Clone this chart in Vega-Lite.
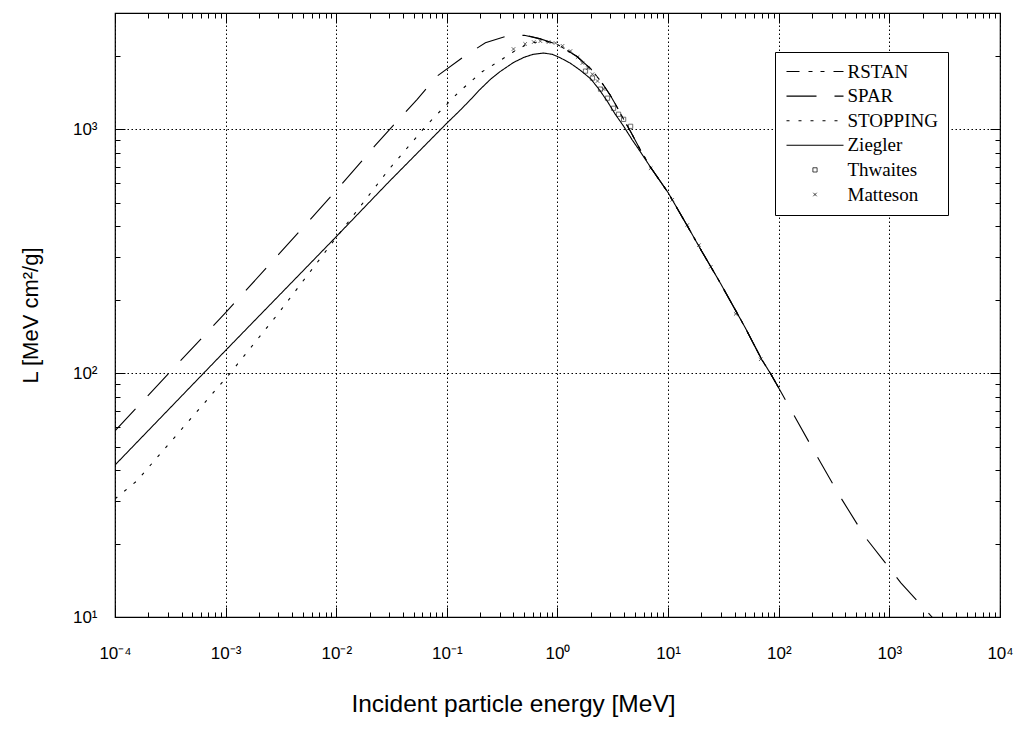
{
  "$schema": "https://vega.github.io/schema/vega-lite/v6.json",
  "autosize": "none",
  "width": 885,
  "height": 604,
  "padding": {"left": 115, "top": 13, "right": 23, "bottom": 123},
  "background": "white",
  "config": {
    "view": {"stroke": "black", "strokeWidth": 1.2},
    "font": "Liberation Sans"
  },
  "datasets": {
    "curves": [
      {"s": "RSTAN", "E": 0.55, "L": 2415}, {"s": "RSTAN", "E": 0.7, "L": 2350}, {"s": "RSTAN", "E": 1, "L": 2230},
      {"s": "RSTAN", "E": 1.5, "L": 1990}, {"s": "RSTAN", "E": 2, "L": 1770}, {"s": "RSTAN", "E": 2.5, "L": 1560},
      {"s": "RSTAN", "E": 3, "L": 1380}, {"s": "RSTAN", "E": 3.5, "L": 1220}, {"s": "RSTAN", "E": 4, "L": 1090},
      {"s": "RSTAN", "E": 4.6, "L": 975}, {"s": "RSTAN", "E": 5.6, "L": 825}, {"s": "RSTAN", "E": 7, "L": 695},
      {"s": "RSTAN", "E": 10, "L": 550}, {"s": "RSTAN", "E": 15, "L": 400}, {"s": "RSTAN", "E": 20, "L": 318},
      {"s": "RSTAN", "E": 30, "L": 232}, {"s": "RSTAN", "E": 50, "L": 153}, {"s": "RSTAN", "E": 70, "L": 114},
      {"s": "RSTAN", "E": 85, "L": 99}, {"s": "RSTAN", "E": 100, "L": 87},

      {"s": "SPAR", "E": 0.0001, "L": 58}, {"s": "SPAR", "E": 0.000307, "L": 100}, {"s": "SPAR", "E": 0.001, "L": 177},
      {"s": "SPAR", "E": 0.003, "L": 306}, {"s": "SPAR", "E": 0.01, "L": 561}, {"s": "SPAR", "E": 0.0225, "L": 859},
      {"s": "SPAR", "E": 0.0354, "L": 1079}, {"s": "SPAR", "E": 0.0537, "L": 1325}, {"s": "SPAR", "E": 0.0815, "L": 1652},
      {"s": "SPAR", "E": 0.137, "L": 1963}, {"s": "SPAR", "E": 0.223, "L": 2265}, {"s": "SPAR", "E": 0.351, "L": 2415},
      {"s": "SPAR", "E": 0.5, "L": 2430}, {"s": "SPAR", "E": 0.7, "L": 2350}, {"s": "SPAR", "E": 1, "L": 2230},
      {"s": "SPAR", "E": 1.5, "L": 1990}, {"s": "SPAR", "E": 2, "L": 1770}, {"s": "SPAR", "E": 2.5, "L": 1560},
      {"s": "SPAR", "E": 3, "L": 1380}, {"s": "SPAR", "E": 3.5, "L": 1220}, {"s": "SPAR", "E": 4, "L": 1090},
      {"s": "SPAR", "E": 4.6, "L": 975}, {"s": "SPAR", "E": 5.6, "L": 825}, {"s": "SPAR", "E": 7, "L": 695},
      {"s": "SPAR", "E": 10, "L": 550}, {"s": "SPAR", "E": 15, "L": 400}, {"s": "SPAR", "E": 20, "L": 318},
      {"s": "SPAR", "E": 30, "L": 232}, {"s": "SPAR", "E": 50, "L": 153}, {"s": "SPAR", "E": 70, "L": 114},
      {"s": "SPAR", "E": 85, "L": 99}, {"s": "SPAR", "E": 100, "L": 87}, {"s": "SPAR", "E": 120, "L": 75},
      {"s": "SPAR", "E": 207, "L": 48.2}, {"s": "SPAR", "E": 349, "L": 31.8}, {"s": "SPAR", "E": 612, "L": 21.1},
      {"s": "SPAR", "E": 1032, "L": 15.6}, {"s": "SPAR", "E": 1270, "L": 13.8}, {"s": "SPAR", "E": 2500, "L": 9.85},

      {"s": "STOPPING", "E": 0.0001, "L": 30.5}, {"s": "STOPPING", "E": 0.000157, "L": 36.1}, {"s": "STOPPING", "E": 0.0011, "L": 100},
      {"s": "STOPPING", "E": 0.003, "L": 176}, {"s": "STOPPING", "E": 0.01, "L": 360}, {"s": "STOPPING", "E": 0.0297, "L": 682},
      {"s": "STOPPING", "E": 0.0662, "L": 1045}, {"s": "STOPPING", "E": 0.128, "L": 1422}, {"s": "STOPPING", "E": 0.208, "L": 1722},
      {"s": "STOPPING", "E": 0.305, "L": 1919}, {"s": "STOPPING", "E": 0.4, "L": 2080}, {"s": "STOPPING", "E": 0.5, "L": 2200},
      {"s": "STOPPING", "E": 0.6, "L": 2270}, {"s": "STOPPING", "E": 0.8, "L": 2290}, {"s": "STOPPING", "E": 1, "L": 2230},
      {"s": "STOPPING", "E": 1.5, "L": 1990}, {"s": "STOPPING", "E": 2, "L": 1770}, {"s": "STOPPING", "E": 2.5, "L": 1560},
      {"s": "STOPPING", "E": 3, "L": 1380}, {"s": "STOPPING", "E": 3.5, "L": 1220}, {"s": "STOPPING", "E": 4, "L": 1090},
      {"s": "STOPPING", "E": 4.6, "L": 975}, {"s": "STOPPING", "E": 5.6, "L": 825}, {"s": "STOPPING", "E": 7, "L": 695},
      {"s": "STOPPING", "E": 10, "L": 550}, {"s": "STOPPING", "E": 15, "L": 400}, {"s": "STOPPING", "E": 20, "L": 318},
      {"s": "STOPPING", "E": 30, "L": 232}, {"s": "STOPPING", "E": 50, "L": 153}, {"s": "STOPPING", "E": 70, "L": 114},
      {"s": "STOPPING", "E": 85, "L": 99}, {"s": "STOPPING", "E": 100, "L": 87},

      {"s": "Ziegler", "E": 0.0001, "L": 42}, {"s": "Ziegler", "E": 0.001, "L": 124}, {"s": "Ziegler", "E": 0.01, "L": 363},
      {"s": "Ziegler", "E": 0.03, "L": 610}, {"s": "Ziegler", "E": 0.1, "L": 1060}, {"s": "Ziegler", "E": 0.13, "L": 1190},
      {"s": "Ziegler", "E": 0.16, "L": 1310}, {"s": "Ziegler", "E": 0.2, "L": 1460}, {"s": "Ziegler", "E": 0.25, "L": 1610},
      {"s": "Ziegler", "E": 0.3, "L": 1720}, {"s": "Ziegler", "E": 0.4, "L": 1880}, {"s": "Ziegler", "E": 0.5, "L": 1975},
      {"s": "Ziegler", "E": 0.6, "L": 2030}, {"s": "Ziegler", "E": 0.75, "L": 2055}, {"s": "Ziegler", "E": 0.9, "L": 2030},
      {"s": "Ziegler", "E": 1.06, "L": 1965}, {"s": "Ziegler", "E": 1.3, "L": 1870}, {"s": "Ziegler", "E": 1.6, "L": 1750},
      {"s": "Ziegler", "E": 2, "L": 1610}, {"s": "Ziegler", "E": 2.4, "L": 1450}, {"s": "Ziegler", "E": 2.83, "L": 1300},
      {"s": "Ziegler", "E": 3.3, "L": 1160}, {"s": "Ziegler", "E": 3.96, "L": 1030}, {"s": "Ziegler", "E": 4.7, "L": 910},
      {"s": "Ziegler", "E": 5.6, "L": 810}, {"s": "Ziegler", "E": 7, "L": 695}, {"s": "Ziegler", "E": 10, "L": 550},
      {"s": "Ziegler", "E": 15, "L": 400}, {"s": "Ziegler", "E": 20, "L": 318}, {"s": "Ziegler", "E": 30, "L": 232},
      {"s": "Ziegler", "E": 50, "L": 153}, {"s": "Ziegler", "E": 70, "L": 114}, {"s": "Ziegler", "E": 85, "L": 99},
      {"s": "Ziegler", "E": 100, "L": 87}
    ],
    "thwaites": [
      {"E": 1.79, "L": 1733}, {"E": 2.07, "L": 1622}, {"E": 2.45, "L": 1462}, {"E": 2.83, "L": 1342},
      {"E": 3.21, "L": 1220}, {"E": 3.56, "L": 1153}, {"E": 3.96, "L": 1099}, {"E": 4.58, "L": 1029}
    ],
    "matteson": [
      {"E": 0.4, "L": 2135}, {"E": 0.51, "L": 2240}, {"E": 0.61, "L": 2280}, {"E": 0.7, "L": 2300},
      {"E": 0.83, "L": 2280}, {"E": 0.96, "L": 2260}, {"E": 1.11, "L": 2200}, {"E": 1.31, "L": 2095},
      {"E": 1.52, "L": 1978}, {"E": 1.68, "L": 1870}, {"E": 1.88, "L": 1783}, {"E": 2.07, "L": 1683},
      {"E": 2.3, "L": 1578}, {"E": 2.61, "L": 1462}, {"E": 6.95, "L": 693}, {"E": 10.9, "L": 514},
      {"E": 14.9, "L": 405}, {"E": 19, "L": 335}, {"E": 24.3, "L": 273}, {"E": 40.8, "L": 175},
      {"E": 68.7, "L": 114}
    ]
  },
  "resolve": {"axis": {"x": "independent", "y": "independent"}},
  "layer": [
    {
      "data": {"name": "curves"},
      "mark": {"type": "line", "color": "black", "strokeWidth": 1.1, "clip": true},
      "encoding": {
        "x": {
          "field": "E", "type": "quantitative",
          "scale": {"type": "log", "domain": [0.0001, 10000], "nice": false},
          "axis": {
            "orient": "bottom",
            "values": [0.0001,0.0002,0.0003,0.0004,0.0005,0.0006,0.0007,0.0008,0.0009,0.001,0.002,0.003,0.004,0.005,0.006,0.007,0.008,0.009,0.01,0.02,0.03,0.04,0.05,0.06,0.07,0.08,0.09,0.1,0.2,0.3,0.4,0.5,0.6,0.7,0.8,0.9,1,2,3,4,5,6,7,8,9,10,20,30,40,50,60,70,80,90,100,200,300,400,500,600,700,800,900,1000,2000,3000,4000,5000,6000,7000,8000,9000,10000],
            "labelExpr": "abs(log(datum.value)/LN10 - round(log(datum.value)/LN10)) < 0.01 ? ['10⁻⁴','10⁻³','10⁻²','10⁻¹','10⁰','10¹','10²','10³','10⁴'][round(log(datum.value)/LN10)+4] : ''",
            "labelOverlap": false,
            "labelBound": false,
            "labelFlush": false,
            "labelFontSize": 17,
            "labelColor": "black",
            "labelPadding": 38,
            "domain": false,
            "tickColor": "black",
            "tickWidth": 1,
            "tickSize": {"condition": {"test": "abs(log(datum.value)/LN10 - round(log(datum.value)/LN10)) < 0.01", "value": -10}, "value": -5},
            "grid": true,
            "gridColor": "black",
            "gridWidth": 1,
            "gridDash": [1.5, 2.5],
            "gridOpacity": {"condition": {"test": "abs(log(datum.value)/LN10 - round(log(datum.value)/LN10)) < 0.01", "value": 1}, "value": 0},
            "title": "Incident particle energy [MeV]",
            "titleFontSize": 24.5,
            "titleFontWeight": "normal",
            "titleColor": "black",
            "titleX": 398,
            "titleY": 94,
            "titleBaseline": "alphabetic"
          }
        },
        "y": {
          "field": "L", "type": "quantitative",
          "scale": {"type": "log", "domain": [10, 3000], "nice": false},
          "axis": {
            "orient": "left",
            "values": [10,20,30,40,50,60,70,80,90,100,200,300,400,500,600,700,800,900,1000,2000],
            "labelExpr": "abs(log(datum.value)/LN10 - round(log(datum.value)/LN10)) < 0.01 ? ['10¹','10²','10³'][round(log(datum.value)/LN10)-1] : ''",
            "labelOverlap": false,
            "labelBound": false,
            "labelFlush": false,
            "labelFontSize": 17,
            "labelColor": "black",
            "labelPadding": 28,
            "domain": false,
            "tickColor": "black",
            "tickSize": {"condition": {"test": "abs(log(datum.value)/LN10 - round(log(datum.value)/LN10)) < 0.01", "value": -10}, "value": -5},
            "grid": true,
            "gridColor": "black",
            "gridWidth": 1,
            "gridDash": [1.5, 2.5],
            "gridOpacity": {"condition": {"test": "abs(log(datum.value)/LN10 - round(log(datum.value)/LN10)) < 0.01", "value": 1}, "value": 0},
            "title": "L [MeV cm²/g]",
            "titleFontSize": 22,
            "titleFontWeight": "normal",
            "titleColor": "black",
            "titlePadding": 30
          }
        },
        "strokeDash": {
          "field": "s", "type": "nominal",
          "scale": {
            "domain": ["RSTAN", "SPAR", "STOPPING", "Ziegler", "Thwaites", "Matteson"],
            "range": [[13, 9, 4, 8, 4, 9], [30, 18], [3, 9], [1, 0], [1, 0], [1, 0]]
          },
          "legend": {
            "title": null,
            "orient": "none",
            "legendX": 660,
            "legendY": 39,
            "padding": 10,
            "strokeColor": "black",
            "fillColor": "white",
            "symbolType": "stroke",
            "symbolSize": 3249,
            "symbolOffset": 20.5,
            "symbolStrokeWidth": 1.1,
            "symbolStrokeColor": "black",
            "labelFont": "Liberation Serif",
            "labelFontSize": 19,
            "labelColor": "black",
            "labelOffset": 23,
            "rowPadding": 4.6,
            "encode": {
              "symbols": {
                "update": {
                  "shape": {"signal": "datum.value == 'Thwaites' ? 'square' : datum.value == 'Matteson' ? 'M-1,-1L1,1M1,-1L-1,1' : 'stroke'"},
                  "size": {"signal": "datum.value == 'Thwaites' ? 18 : datum.value == 'Matteson' ? 12 : 3249"},
                  "strokeWidth": {"signal": "datum.value == 'Thwaites' || datum.value == 'Matteson' ? 0.8 : 1.1"}
                }
              }
            }
          }
        }
      }
    },
    {
      "data": {"name": "curves"},
      "mark": {"type": "point", "opacity": 0},
      "encoding": {
        "x": {
          "field": "E", "type": "quantitative",
          "axis": {
            "orient": "top",
            "values": [0.0001,0.0002,0.0003,0.0004,0.0005,0.0006,0.0007,0.0008,0.0009,0.001,0.002,0.003,0.004,0.005,0.006,0.007,0.008,0.009,0.01,0.02,0.03,0.04,0.05,0.06,0.07,0.08,0.09,0.1,0.2,0.3,0.4,0.5,0.6,0.7,0.8,0.9,1,2,3,4,5,6,7,8,9,10,20,30,40,50,60,70,80,90,100,200,300,400,500,600,700,800,900,1000,2000,3000,4000,5000,6000,7000,8000,9000,10000],
            "labels": false,
            "domain": false,
            "grid": false,
            "title": null,
            "tickColor": "black",
            "tickSize": {"condition": {"test": "abs(log(datum.value)/LN10 - round(log(datum.value)/LN10)) < 0.01", "value": -10}, "value": -5}
          }
        },
        "y": {
          "field": "L", "type": "quantitative",
          "axis": {
            "orient": "right",
            "values": [10,20,30,40,50,60,70,80,90,100,200,300,400,500,600,700,800,900,1000,2000],
            "labels": false,
            "domain": false,
            "grid": false,
            "title": null,
            "tickColor": "black",
            "tickSize": {"condition": {"test": "abs(log(datum.value)/LN10 - round(log(datum.value)/LN10)) < 0.01", "value": -10}, "value": -5}
          }
        }
      }
    },
    {
      "data": {"name": "thwaites"},
      "mark": {"type": "point", "shape": "square", "filled": false, "size": 18, "stroke": "black", "strokeWidth": 0.8},
      "encoding": {
        "x": {"field": "E", "type": "quantitative", "axis": null},
        "y": {"field": "L", "type": "quantitative", "axis": null}
      }
    },
    {
      "data": {"name": "matteson"},
      "mark": {"type": "point", "shape": "M-1,-1L1,1M1,-1L-1,1", "filled": false, "size": 12, "stroke": "black", "strokeWidth": 0.9},
      "encoding": {
        "x": {"field": "E", "type": "quantitative", "axis": null},
        "y": {"field": "L", "type": "quantitative", "axis": null}
      }
    }
  ]
}
